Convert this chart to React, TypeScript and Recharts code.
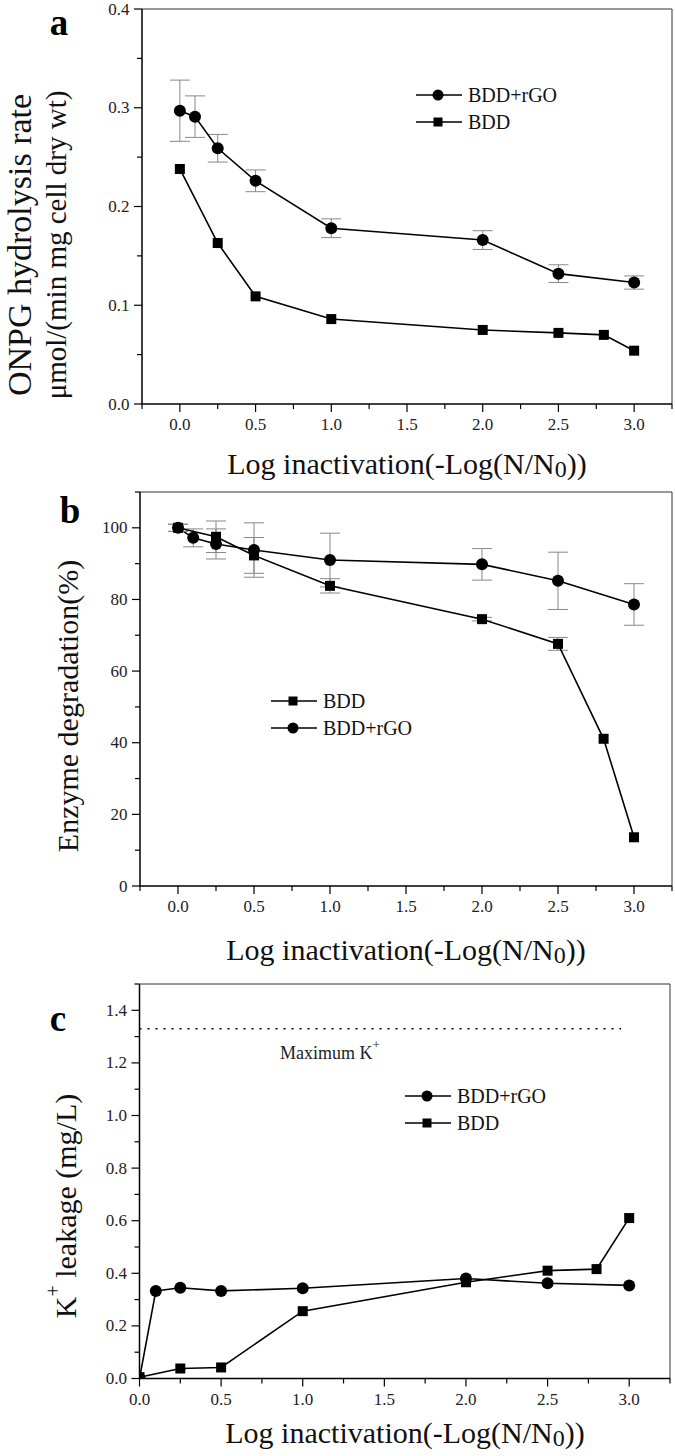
import React from 'react';
import { ComposedChart, Line, XAxis, YAxis, ErrorBar, ReferenceLine, Legend } from 'recharts';

const FONT = '"Liberation Serif", "Times New Roman", serif';

// ---------- Panel a : ONPG hydrolysis rate ----------
const aRgoX = [0, 0.1, 0.25, 0.5, 1, 2, 2.5, 3];
const aRgoY = [0.297, 0.291, 0.259, 0.226, 0.178, 0.166, 0.132, 0.123];
const aRgoE = [0.031, 0.021, 0.014, 0.011, 0.0095, 0.0095, 0.009, 0.0067];
const aBddX = [0, 0.25, 0.5, 1, 2, 2.5, 2.8, 3];
const aBddY = [0.238, 0.163, 0.109, 0.086, 0.075, 0.072, 0.070, 0.054];

// ---------- Panel b : Enzyme degradation ----------
const bBddX = [0, 0.25, 0.5, 1, 2, 2.5, 2.8, 3];
const bBddY = [100, 97.5, 92.3, 83.8, 74.5, 67.6, 41.1, 13.6];
const bBddE = [1, 4.4, 5, 2, 0.5, 1.8, 0, 0];
const bRgoX = [0, 0.1, 0.25, 0.5, 1, 2, 2.5, 3];
const bRgoY = [100, 97.2, 95.5, 93.8, 91.0, 89.8, 85.2, 78.6];
const bRgoE = [1, 2.5, 4.2, 7.6, 7.5, 4.4, 8, 5.8];

// ---------- Panel c : K+ leakage ----------
const cRgoX = [0, 0.1, 0.25, 0.5, 1, 2, 2.5, 3];
const cRgoY = [0.0, 0.333, 0.345, 0.333, 0.343, 0.38, 0.362, 0.354];
const cBddX = [0, 0.25, 0.5, 1, 2, 2.5, 2.8, 3];
const cBddY = [0.005, 0.038, 0.042, 0.256, 0.366, 0.41, 0.416, 0.61];
const cMaxX = [0, 2.95];
const cMaxY = [1.33, 1.33];

// ---------- Ticks ----------
const xTicksAB = [-0.25, 0, 0.25, 0.5, 0.75, 1, 1.25, 1.5, 1.75, 2, 2.25, 2.5, 2.75, 3, 3.25];
const xTicksC = [0, 0.25, 0.5, 0.75, 1, 1.25, 1.5, 1.75, 2, 2.25, 2.5, 2.75, 3, 3.25];
const yTicksA = [0, 0.05, 0.1, 0.15, 0.2, 0.25, 0.3, 0.35, 0.4];
const yTicksB = [0, 10, 20, 30, 40, 50, 60, 70, 80, 90, 100, 110];
const yTicksC = [0, 0.1, 0.2, 0.3, 0.4, 0.5, 0.6, 0.7, 0.8, 0.9, 1.0, 1.1, 1.2, 1.3, 1.4, 1.5];

const zip = (xs: number[], ys: number[], es?: number[]) =>
  xs.map((x, i) => ({ x, y: ys[i], e: es ? es[i] : 0 }));

const isMajor = (v: number, step: number) => Math.abs(v / step - Math.round(v / step)) < 1e-6;

const makeXTick = (step: number) => (props: any) => {
  const { x, y, payload } = props;
  const v = payload.value as number;
  const major = isMajor(v, step);
  return (
    <g>
      <line x1={x} x2={x} y1={y} y2={y + (major ? 8 : 5)} stroke="#000" strokeWidth={1.2} />
      {major && (
        <text x={x} y={y + 20.5} textAnchor="middle" dominantBaseline="central" fontFamily={FONT} fontSize={17} fill="#222">
          {v.toFixed(1)}
        </text>
      )}
    </g>
  );
};

const makeYTick = (step: number, fmt: (v: number) => string) => (props: any) => {
  const { x, y, payload } = props;
  const v = payload.value as number;
  const major = isMajor(v, step);
  return (
    <g>
      <line x1={x} x2={x - (major ? 8 : 5)} y1={y} y2={y} stroke="#000" strokeWidth={1.2} />
      {major && (
        <text x={x - 12.5} y={y} textAnchor="end" dominantBaseline="central" fontFamily={FONT} fontSize={17} fill="#222">
          {fmt(v)}
        </text>
      )}
    </g>
  );
};

const CircleDot = (p: any) => {
  if (p.cx == null || p.cy == null) return <g />;
  return <circle cx={p.cx} cy={p.cy} r={6} fill="#000" />;
};
const SquareDot = (p: any) => {
  if (p.cx == null || p.cy == null) return <g />;
  return <rect x={p.cx - 5} y={p.cy - 5} width={10} height={10} fill="#000" />;
};

type LegItem = { name: string; shape: 'circle' | 'square' };
const LegendBox = ({ items }: { items: LegItem[] }) => (
  <svg width={200} height={60} style={{ display: 'block' }}>
    {items.map((it, i) => {
      const cy = 10 + i * 27;
      return (
        <g key={it.name}>
          <line x1={0} x2={46} y1={cy} y2={cy} stroke="#000" strokeWidth={1.6} />
          {it.shape === 'circle' ? (
            <circle cx={22} cy={cy} r={5.5} fill="#000" />
          ) : (
            <rect x={17.5} y={cy - 4.5} width={9} height={9} fill="#000" />
          )}
          <text x={52} y={cy} dominantBaseline="central" fontFamily={FONT} fontSize={20} fill="#111">
            {it.name}
          </text>
        </g>
      );
    })}
  </svg>
);

const axisLine = { stroke: '#000', strokeWidth: 1.5 };
const W = 675;

const PanelA = () => (
  <ComposedChart width={W} height={480} margin={{ top: 9, right: 3, bottom: 36, left: 82 }}>
    <XAxis type="number" dataKey="x" domain={[-0.25, 3.25]} ticks={xTicksAB} interval={0}
      tick={makeXTick(0.5)} tickLine={false} tickSize={0} tickMargin={0} axisLine={axisLine} height={40} allowDataOverflow />
    <YAxis type="number" domain={[0, 0.4]} ticks={yTicksA} interval={0}
      tick={makeYTick(0.1, (v) => v.toFixed(1))} tickLine={false} tickSize={0} tickMargin={0} axisLine={axisLine} width={60} allowDataOverflow />
    <ReferenceLine y={0.4} stroke="#333" strokeWidth={1} ifOverflow="visible" />
    <ReferenceLine x={3.25} stroke="#333" strokeWidth={1} ifOverflow="visible" />
    <Line data={zip(aBddX, aBddY)} dataKey="y" stroke="#000" strokeWidth={1.6} dot={<SquareDot />} activeDot={false} isAnimationActive={false} />
    <Line data={zip(aRgoX, aRgoY, aRgoE)} dataKey="y" stroke="#000" strokeWidth={1.6} dot={<CircleDot />} activeDot={false} isAnimationActive={false}>
      <ErrorBar dataKey="e" direction="y" width={10} stroke="#888" strokeWidth={1} isAnimationActive={false} />
    </Line>
    <Legend layout="vertical" align="center" verticalAlign="middle"
      wrapperStyle={{ position: 'absolute', left: 416, top: 85, width: 200, height: 60 }}
      content={() => <LegendBox items={[{ name: 'BDD+rGO', shape: 'circle' }, { name: 'BDD', shape: 'square' }]} />} />
  </ComposedChart>
);

const PanelB = () => (
  <ComposedChart width={W} height={490} margin={{ top: 12, right: 3, bottom: 44, left: 80 }}>
    <XAxis type="number" dataKey="x" domain={[-0.25, 3.25]} ticks={xTicksAB} interval={0}
      tick={makeXTick(0.5)} tickLine={false} tickSize={0} tickMargin={0} axisLine={axisLine} height={40} allowDataOverflow />
    <YAxis type="number" domain={[0, 110]} ticks={yTicksB} interval={0}
      tick={makeYTick(20, (v) => String(Math.round(v)))} tickLine={false} tickSize={0} tickMargin={0} axisLine={axisLine} width={60} allowDataOverflow />
    <ReferenceLine y={110} stroke="#333" strokeWidth={1} ifOverflow="visible" />
    <ReferenceLine x={3.25} stroke="#333" strokeWidth={1} ifOverflow="visible" />
    <Line data={zip(bRgoX, bRgoY, bRgoE)} dataKey="y" stroke="#000" strokeWidth={1.6} dot={<CircleDot />} activeDot={false} isAnimationActive={false}>
      <ErrorBar dataKey="e" direction="y" width={10} stroke="#888" strokeWidth={1} isAnimationActive={false} />
    </Line>
    <Line data={zip(bBddX, bBddY, bBddE)} dataKey="y" stroke="#000" strokeWidth={1.6} dot={<SquareDot />} activeDot={false} isAnimationActive={false}>
      <ErrorBar dataKey="e" direction="y" width={10} stroke="#888" strokeWidth={1} isAnimationActive={false} />
    </Line>
    <Legend layout="vertical" align="center" verticalAlign="middle"
      wrapperStyle={{ position: 'absolute', left: 271, top: 211, width: 200, height: 60 }}
      content={() => <LegendBox items={[{ name: 'BDD', shape: 'square' }, { name: 'BDD+rGO', shape: 'circle' }]} />} />
  </ComposedChart>
);

const PanelC = () => (
  <ComposedChart width={W} height={486} margin={{ top: 14, right: 5, bottom: 37.5, left: 79.5 }}>
    <XAxis type="number" dataKey="x" domain={[0, 3.25]} ticks={xTicksC} interval={0}
      tick={makeXTick(0.5)} tickLine={false} tickSize={0} tickMargin={0} axisLine={axisLine} height={40} allowDataOverflow />
    <YAxis type="number" domain={[0, 1.5]} ticks={yTicksC} interval={0}
      tick={makeYTick(0.2, (v) => v.toFixed(1))} tickLine={false} tickSize={0} tickMargin={0} axisLine={axisLine} width={60} allowDataOverflow />
    <ReferenceLine y={1.5} stroke="#333" strokeWidth={1} ifOverflow="visible" />
    <ReferenceLine x={3.25} stroke="#333" strokeWidth={1} ifOverflow="visible" />
    <Line data={zip(cMaxX, cMaxY)} dataKey="y" stroke="#000" strokeWidth={1.5} strokeDasharray="2 6" dot={false} activeDot={false} isAnimationActive={false} />
    <Line data={zip(cBddX, cBddY)} dataKey="y" stroke="#000" strokeWidth={1.6} dot={<SquareDot />} activeDot={false} isAnimationActive={false} />
    <Line data={zip(cRgoX, cRgoY)} dataKey="y" stroke="#000" strokeWidth={1.6} dot={<CircleDot />} activeDot={false} isAnimationActive={false} />
    <Legend layout="vertical" align="center" verticalAlign="middle"
      wrapperStyle={{ position: 'absolute', left: 405, top: 116, width: 200, height: 60 }}
      content={() => <LegendBox items={[{ name: 'BDD+rGO', shape: 'circle' }, { name: 'BDD', shape: 'square' }]} />} />
  </ComposedChart>
);

const XTitle = ({ cx, cy }: { cx: number; cy: number }) => (
  <text x={cx} y={cy} textAnchor="middle" dominantBaseline="central" fontFamily={FONT} fontSize={30} fill="#111">
    Log inactivation(-Log(N/N<tspan fontSize={24} dy={6}>0</tspan><tspan dy={-6}>))</tspan>
  </text>
);

const Overlay = () => (
  <svg width={W} height={1456} style={{ position: 'absolute', left: 0, top: 0, pointerEvents: 'none' }}>
    {/* panel letters */}
    <text x={59} y={35} textAnchor="middle" fontFamily={FONT} fontWeight="bold" fontSize={37} fill="#000">a</text>
    <text x={70} y={523} textAnchor="middle" fontFamily={FONT} fontWeight="bold" fontSize={37} fill="#000">b</text>
    <text x={58} y={1031} textAnchor="middle" fontFamily={FONT} fontWeight="bold" fontSize={37} fill="#000">c</text>

    {/* y titles */}
    <text transform="translate(19,245) rotate(-90)" textAnchor="middle" dominantBaseline="central" fontFamily={FONT} fontSize={34} fill="#111">
      ONPG hydrolysis rate
    </text>
    <text transform="translate(56,245) rotate(-90)" textAnchor="middle" dominantBaseline="central" fontFamily={FONT} fontSize={29} fill="#111">
      μmol/(min mg cell dry wt)
    </text>
    <text transform="translate(67,706) rotate(-90)" textAnchor="middle" dominantBaseline="central" fontFamily={FONT} fontSize={30} fill="#111">
      Enzyme degradation(%)
    </text>
    <text transform="translate(65,1206) rotate(-90)" textAnchor="middle" dominantBaseline="central" fontFamily={FONT} fontSize={30} fill="#111">
      K<tspan fontSize={20} dy={-12}>+</tspan><tspan dy={12}> leakage (mg/L)</tspan>
    </text>

    {/* x titles */}
    <XTitle cx={407} cy={463} />
    <XTitle cx={406} cy={949} />
    <XTitle cx={405} cy={1432} />

    {/* max K+ annotation */}
    <text x={280} y={1053} dominantBaseline="central" fontFamily={FONT} fontSize={18} fill="#222">
      Maximum K<tspan fontSize={13} dy={-9}>+</tspan>
    </text>
  </svg>
);

export default function App() {
  return (
    <div style={{ position: 'absolute', left: 0, top: 0, width: W, height: 1456, background: '#fff', overflow: 'hidden' }}>
      <div style={{ position: 'absolute', left: 0, top: 0 }}><PanelA /></div>
      <div style={{ position: 'absolute', left: 0, top: 480 }}><PanelB /></div>
      <div style={{ position: 'absolute', left: 0, top: 970 }}><PanelC /></div>
      <Overlay />
    </div>
  );
}
